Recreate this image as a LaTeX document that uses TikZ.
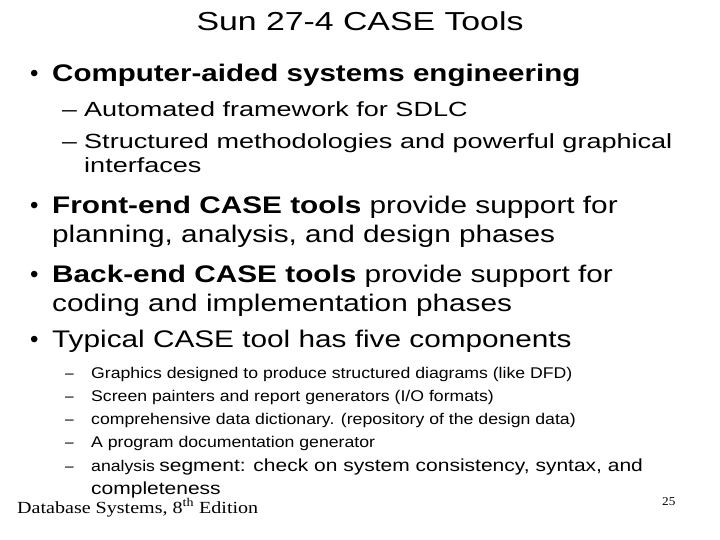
\documentclass[tikz,border=0pt]{standalone}
\usepackage{fontspec}
\usepackage{graphicx}
\setmainfont{Liberation Sans}
\newfontfamily\serif{Liberation Serif}
\newcommand\hsc[2]{\scalebox{#1}[1]{#2}}
\begin{document}
\begin{tikzpicture}[x=1pt,y=-1pt,
  tx/.style={anchor=base west,inner sep=0pt},
  big/.style={tx,font=\fontsize{24}{28}\selectfont},
  mid/.style={tx,font=\fontsize{20.5}{24}\selectfont},
  sml/.style={tx,font=\fontsize{15.5}{18}\selectfont}]
\useasboundingbox[fill=white] (0,0) rectangle (720,540);
\node[anchor=base,inner sep=0pt,font=\fontsize{26}{30}\selectfont] (title) at (360,31) {\hsc{1.3}{Sun 27-4 CASE Tools}};
\node[big] (b1) at (30,82) {•};
\node[big] (t1) at (52,82) {\hsc{1.23}{\textbf{Computer-aided systems engineering}}};
\node[mid] (d1) at (62,117) {\hsc{1.3}{–}};
\node[mid] (s1) at (84,117) {\hsc{1.32}{Automated framework for SDLC}};
\node[mid] (d2) at (62,149) {\hsc{1.3}{–}};
\node[mid] (s2) at (84,149) {\hsc{1.32}{Structured methodologies and powerful graphical}};
\node[mid] (s2b) at (84,173) {\hsc{1.32}{interfaces}};
\node[big] (b2) at (30,214) {•};
\node[big] (t2) at (52,214) {\hsc{1.24}{\textbf{Front-end CASE tools} provide support for}};
\node[big] (t2b) at (52,243) {\hsc{1.24}{planning, analysis, and design phases}};
\node[big] (b3) at (30,282) {•};
\node[big] (t3) at (52,282) {\hsc{1.24}{\textbf{Back-end CASE tools} provide support for}};
\node[big] (t3b) at (52,311) {\hsc{1.24}{coding and implementation phases}};
\node[big] (b4) at (30,347) {•};
\node[big] (t4) at (52,347) {\hsc{1.24}{Typical CASE tool has five components}};
\node[sml] (e1) at (65,378) {–};
\node[sml] (f1) at (91,378) {\hsc{1.14}{Graphics designed to produce structured diagrams (like DFD)}};
\node[sml] (e2) at (65,401) {–};
\node[sml] (f2) at (91,401) {\hsc{1.14}{Screen painters and report generators (I/O formats)}};
\node[sml] (e3) at (65,424) {–};
\node[sml] (f3) at (91,424) {\hsc{1.14}{comprehensive data dictionary. (repository of the design data)}};
\node[sml] (e4) at (65,447) {–};
\node[sml] (f4) at (91,447) {\hsc{1.14}{A program documentation generator}};
\node[sml] (e5) at (65,471) {–};
\node[sml] (f5) at (91,471) {\hsc{1.14}{analysis} \hsc{1.2}{\fontsize{17.5}{20}\selectfont segment: check on system consistency, syntax, and}};
\node[tx,font=\fontsize{17.5}{20}\selectfont] (f5b) at (91,494) {\hsc{1.2}{completeness}};
\node[tx,font=\serif\fontsize{17}{20}\selectfont] (foot) at (17,513) {\hsc{1.18}{Database Systems, 8\textsuperscript{th} Edition}};
\node[tx,font=\serif\fontsize{12}{14}\selectfont] (pg) at (662,505) {\hsc{1.1}{25}};
\end{tikzpicture}
\end{document}
